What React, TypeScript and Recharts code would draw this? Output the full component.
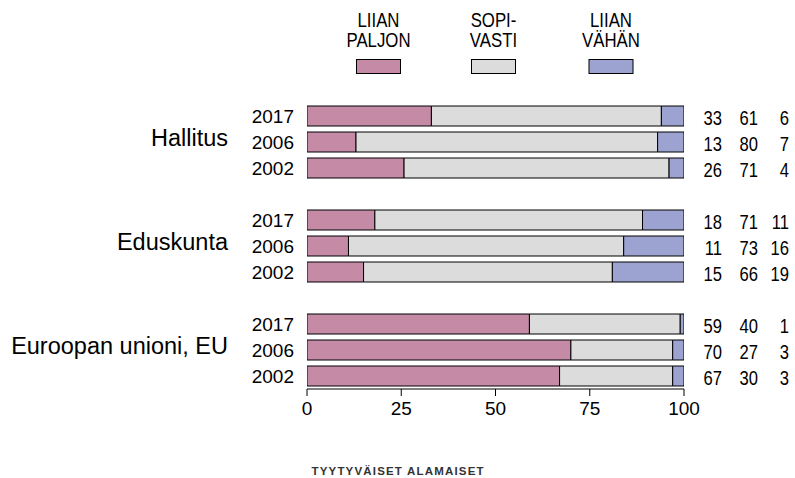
import React from 'react';
import { BarChart, Bar, XAxis, YAxis } from 'recharts';

const groups = ['Hallitus', 'Eduskunta', 'Euroopan unioni, EU'];
const years = ['2017', '2006', '2002'];
const liianPaljon = [33, 13, 26, 18, 11, 15, 59, 70, 67];
const sopivasti = [61, 80, 71, 71, 73, 66, 40, 27, 30];
const liianVahan = [6, 7, 4, 11, 16, 19, 1, 3, 3];
const seriesKeys = ['lp', 'sv', 'lv'];
const seriesNames = [['LIIAN', 'PALJON'], ['SOPI-', 'VASTI'], ['LIIAN', 'VÄHÄN']];
const seriesColors = ['#C48AA6', '#DCDCDC', '#9CA3D1'];
const xTicks = [0, 25, 50, 75, 100];
const footer = 'TYYTYVÄISET ALAMAISET';

type Row = {
  id: string; group?: string; year?: string; mid?: boolean;
  lpL?: number; svL?: number; lvL?: number;
  lp?: number; sv?: number; lv?: number;
};
const rows: Row[] = [];
groups.forEach((g, gi) => {
  years.forEach((y, yi) => {
    const i = gi * years.length + yi;
    const a = liianPaljon[i], b = sopivasti[i], c = liianVahan[i];
    const s = (a + b + c) / 100; // rounded labels may sum to 101; bars are shares of 100
    rows.push({
      id: `${g}|${y}`, group: g, year: y, mid: yi === 1,
      lpL: a, svL: b, lvL: c,
      lp: a / s, sv: b / s, lv: c / s,
    });
  });
  if (gi < groups.length - 1) rows.push({ id: `gap${gi}` });
});
const byId: Record<string, Row> = {};
rows.forEach((r) => (byId[r.id] = r));

const FONT = '"Liberation Sans", Arial, Helvetica, sans-serif';
const W = 795;
const H = 478;

const LeftTick = (props: any) => {
  const { x, y, payload } = props;
  const r = byId[payload.value];
  if (!r || !r.year) return null;
  return (
    <g>
      <text x={x - 13} y={y + 6.5} textAnchor="end" fontSize={19} fill="#000" fontFamily={FONT}>{r.year}</text>
      {r.mid && (
        <text x={x - 79} y={y + 4} textAnchor="end" fontSize={23.5} fill="#000" fontFamily={FONT}>{r.group}</text>
      )}
    </g>
  );
};

const RightTick = (props: any) => {
  const { x, y, payload } = props;
  const r = byId[payload.value];
  if (!r || !r.year) return null;
  const vals = [r.lpL, r.svL, r.lvL];
  const offs = [38, 74, 105];
  return (
    <g>
      {vals.map((v, i) => (
        <text key={i} transform={`translate(${x + offs[i]},${y + 8.5}) scale(0.79,1)`} x={0} y={0} textAnchor="end" fontSize={21} fill="#000" fontFamily={FONT}>{v}</text>
      ))}
    </g>
  );
};

const legendCenters = [378.5, 493.5, 611];

export default function App() {
  return (
    <div style={{ position: 'absolute', left: 0, top: 0, width: W, height: H, overflow: 'hidden' }}>
      <BarChart
        width={W}
        height={H}
        data={rows}
        layout="vertical"
        margin={{ top: 103, right: 11, bottom: 59, left: 0 }}
        style={{ fontFamily: FONT }}
      >
        <XAxis
          type="number"
          domain={[0, 100]}
          allowDataOverflow
          ticks={xTicks}
          height={30}
          tickSize={7}
          tickMargin={6}
          axisLine={{ stroke: '#000', strokeWidth: 1 }}
          tickLine={{ stroke: '#000', strokeWidth: 1 }}
          tick={{ fontSize: 19, fill: '#000', fontFamily: FONT }}
          interval={0}
        />
        <YAxis
          type="category"
          dataKey="id"
          width={307}
          axisLine={false}
          tickLine={false}
          tickSize={0}
          tickMargin={0}
          interval={0}
          tick={(p: any) => <LeftTick {...p} />}
        />
        <YAxis
          yAxisId="right"
          orientation="right"
          type="category"
          dataKey="id"
          width={100}
          axisLine={false}
          tickLine={false}
          tickSize={0}
          tickMargin={0}
          interval={0}
          tick={(p: any) => <RightTick {...p} />}
        />
        {seriesKeys.map((k, i) => (
          <Bar key={k} dataKey={k} stackId="a" fill={seriesColors[i]} stroke="#000" strokeWidth={1} barSize={20} isAnimationActive={false} />
        ))}
      </BarChart>
      <svg width={W} height={H} style={{ position: 'absolute', left: 0, top: 0, pointerEvents: 'none' }}>
        {seriesNames.map((lines, i) => (
          <g key={i}>
            <text transform={`translate(${legendCenters[i]},26.7) scale(0.8,1)`} x={0} y={0} textAnchor="middle" fontSize={21} fill="#000" fontFamily={FONT}>
              {lines.map((t, j) => (
                <tspan key={j} x={0} dy={j === 0 ? 0 : 20}>{t}</tspan>
              ))}
            </text>
            <rect x={legendCenters[i] - 22} y={59.5} width={44} height={14} fill={seriesColors[i]} stroke="#000" strokeWidth={1} />
          </g>
        ))}
        <text x={311.5} y={475} fontSize={11.5} fontWeight="bold" fill="#333" fontFamily={FONT} textLength={172} lengthAdjust="spacing">{footer}</text>
      </svg>
    </div>
  );
}
